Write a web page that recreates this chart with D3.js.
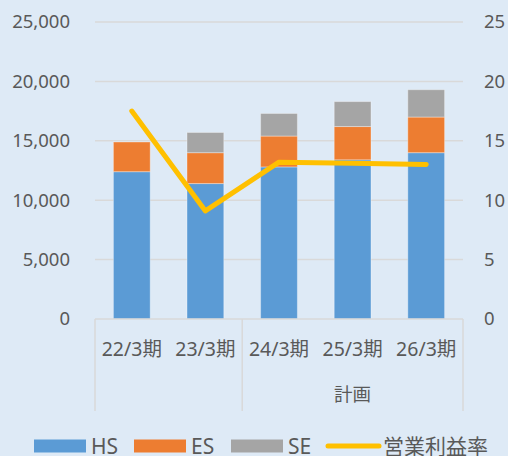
<!DOCTYPE html>
<html lang="ja">
<head>
<meta charset="UTF-8">
<title>売上高・営業利益率</title>
<style>
  body { margin: 0; background: #DEEAF6; }
  .chartBlock { width: 508px; height: 456px; }
  text { font-family: "Noto Sans", "Noto Sans CJK JP", sans-serif; fill: #595959; }
</style>
</head>
<body>
<div class="chartBlock"></div>
<script src="https://d3js.org/d3.v7.min.js"></script>
<script>
  // データ
  const categories = ['22/3期', '23/3期', '24/3期', '25/3期', '26/3期'];
  const groupLabels = [{ label: '', from: 0, to: 1 }, { label: '計画', from: 2, to: 4 }];
  const hs = [12400, 11400, 12800, 13400, 14000];
  const es = [2500, 2600, 2600, 2800, 3000];
  const se = [0, 1700, 1900, 2100, 2300];
  const margin = [17.5, 9.1, 13.2, 13.1, 13.0];
  const leftTicks = [0, 5000, 10000, 15000, 20000, 25000];
  const rightTicks = [0, 5, 10, 15, 20, 25];
  const seriesNames = ['HS', 'ES', 'SE'];
  const lineName = '営業利益率';

  const drawChart = (DOM) => {
    const W = 508, H = 456;
    const x0 = 95, x1 = 463, yTop = 22, yBottom = 319;

    const svg = d3.select(DOM).append('svg')
      .attr('width', W).attr('height', H);

    svg.append('rect').attr('width', W).attr('height', H).attr('fill', '#DEEAF6');

    const xScale = d3.scaleBand().domain(categories).range([x0, x1]).paddingInner(0.5).paddingOuter(0.25);
    const yLeft = d3.scaleLinear().domain([0, 25000]).range([yBottom, yTop]);
    const yRight = d3.scaleLinear().domain([0, 25]).range([yBottom, yTop]);

    // グリッド線
    svg.append('g').selectAll('line')
      .data(leftTicks.slice(1))
      .join('line')
      .attr('x1', x0).attr('x2', x1)
      .attr('y1', d => yLeft(d)).attr('y2', d => yLeft(d))
      .attr('stroke', '#D9D9D9').attr('stroke-width', 1.5);

    // 左軸
    const yAxisL = d3.axisLeft(yLeft).tickValues(leftTicks).tickSize(0).tickPadding(0)
      .tickFormat(d3.format(','));
    const gL = svg.append('g').attr('transform', 'translate(70,0)').call(yAxisL);
    gL.select('.domain').remove();
    gL.selectAll('text').attr('font-size', '18.5px').style('fill', '#595959');

    // 右軸
    const yAxisR = d3.axisRight(yRight).tickValues(rightTicks).tickSize(0).tickPadding(0);
    const gR = svg.append('g').attr('transform', 'translate(484,0)').call(yAxisR);
    gR.select('.domain').remove();
    gR.selectAll('text').attr('font-size', '18.5px').style('fill', '#595959');

    // 積み上げ棒
    const table = categories.map((c, i) => ({ cat: c, HS: hs[i], ES: es[i], SE: se[i] }));
    const stack = d3.stack().keys(seriesNames)(table);
    const color = d3.scaleOrdinal().domain(seriesNames).range(['#5B9BD5', '#ED7D31', '#A5A5A5']);

    svg.append('g').selectAll('g')
      .data(stack)
      .join('g')
      .attr('fill', d => color(d.key))
      .selectAll('rect')
      .data(d => d.filter(p => p[1] - p[0] > 0))
      .join('rect')
      .attr('x', d => xScale(d.data.cat))
      .attr('width', xScale.bandwidth())
      .attr('y', d => yLeft(d[1]))
      .attr('height', d => yLeft(d[0]) - yLeft(d[1]))
      .attr('stroke', 'rgba(255,255,255,0.35)')
      .attr('stroke-width', 1);

    // X軸
    svg.append('line')
      .attr('x1', x0).attr('x2', x1).attr('y1', yBottom).attr('y2', yBottom)
      .attr('stroke', '#D9D9D9').attr('stroke-width', 1.5);

    const sepX = [0, 2, 5].map(i => x0 + i * (x1 - x0) / categories.length);
    svg.append('g').selectAll('line')
      .data(sepX)
      .join('line')
      .attr('x1', d => d).attr('x2', d => d)
      .attr('y1', yBottom).attr('y2', 411)
      .attr('stroke', '#D9D9D9').attr('stroke-width', 1.5);

    svg.append('g').selectAll('text')
      .data(categories)
      .join('text')
      .attr('x', d => xScale(d) + xScale.bandwidth() / 2)
      .attr('y', 356)
      .attr('text-anchor', 'middle')
      .attr('font-size', '19.5px')
      .text(d => d);

    svg.append('g').selectAll('text')
      .data(groupLabels.filter(g => g.label))
      .join('text')
      .attr('x', d => (xScale(categories[d.from]) + xScale(categories[d.to]) + xScale.bandwidth()) / 2)
      .attr('y', 401)
      .attr('text-anchor', 'middle')
      .attr('font-size', '18.5px')
      .text(d => d.label);

    // 営業利益率 折れ線
    const line = d3.line()
      .x((d, i) => xScale(categories[i]) + xScale.bandwidth() / 2)
      .y(d => yRight(d));
    svg.append('path')
      .datum(margin)
      .attr('d', line)
      .attr('fill', 'none')
      .attr('stroke', '#FFC000')
      .attr('stroke-width', 5)
      .attr('stroke-linecap', 'round')
      .attr('stroke-linejoin', 'round');

    // 凡例
    const legendY = 446;
    const legendItems = [
      { name: 'HS', x: 34, type: 'rect' },
      { name: 'ES', x: 134, type: 'rect' },
      { name: 'SE', x: 231, type: 'rect' },
      { name: lineName, x: 326, type: 'line' }
    ];
    const lg = svg.append('g').selectAll('g').data(legendItems).join('g');
    lg.filter(d => d.type === 'rect').append('rect')
      .attr('x', d => d.x).attr('y', legendY - 6.5)
      .attr('width', 52).attr('height', 13)
      .attr('fill', d => color(d.name));
    lg.filter(d => d.type === 'line').append('line')
      .attr('x1', d => d.x + 2).attr('x2', d => d.x + 53)
      .attr('y1', legendY).attr('y2', legendY)
      .attr('stroke', '#FFC000').attr('stroke-width', 5)
      .attr('stroke-linecap', 'round');
    lg.append('text')
      .attr('x', d => d.x + 57)
      .attr('y', legendY + 7.5)
      .attr('font-size', '21px')
      .text(d => d.name);
  };

  drawChart('.chartBlock');
</script>
</body>
</html>
